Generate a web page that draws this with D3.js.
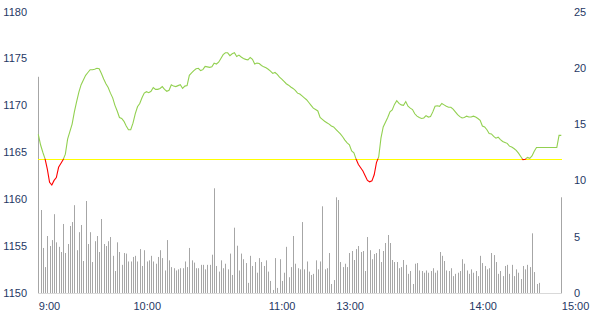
<!DOCTYPE html>
<html><head><meta charset="utf-8">
<script src="https://cdn.jsdelivr.net/npm/d3@7/dist/d3.min.js"></script>
<style>
html,body{margin:0;padding:0;background:#fff;}
svg{display:block;}
text{font-family:"Liberation Sans",Arial,sans-serif;font-size:11px;fill:#1f3864;}
</style></head>
<body>
<svg id="chart" width="597" height="330"></svg>
<script>
// ---- data ----
const prevClose = 1164.3;
const priceTicks = [1150,1155,1160,1165,1170,1175,1180];
const volumeTicks = [0,5,10,15,20,25];
const timeLabels = ["9:00","10:00","11:00","13:00","14:00","15:00"];
const timeIndex = [0,42,102,132,191,232];

const prices = [
1166.9,1165.8,1165.0,1164.3,1163.2,1161.8,1161.5,1162.0,1162.3,1163.4,
1163.8,1164.2,1164.8,1166.4,1167.2,1168.0,1169.3,1170.4,1171.4,1172.2,
1172.7,1173.2,1173.5,1173.8,1173.8,1173.85,1173.95,1173.9,1173.4,1172.8,
1172.3,1171.9,1171.3,1170.8,1170.0,1169.4,1168.7,1168.6,1168.3,1167.8,
1167.4,1167.4,1168.1,1169.1,1169.85,1170.2,1170.8,1171.3,1171.45,1171.35,
1171.5,1171.9,1171.7,1171.7,1171.8,1172.0,1171.7,1171.5,1171.6,1172.2,
1172.05,1172.0,1172.1,1172.2,1171.8,1172.05,1172.1,1173.2,1173.45,1173.7,
1173.9,1173.95,1173.7,1173.8,1174.15,1174.1,1174.05,1174.1,1174.5,1174.4,
1174.6,1175.0,1175.4,1175.6,1175.6,1175.3,1175.5,1175.6,1175.2,1175.35,
1175.15,1175.0,1174.9,1174.85,1175.1,1174.9,1174.4,1174.5,1174.45,1174.25,
1174.1,1174.0,1173.85,1173.65,1173.4,1173.5,1173.3,1173.0,1172.8,1172.55,
1172.3,1172.15,1171.95,1171.8,1171.6,1171.3,1171.2,1171.0,1170.8,1170.6,
1170.3,1170.0,1169.7,1169.55,1169.4,1168.7,1168.5,1168.3,1168.15,1168.0,
1167.8,1167.7,1167.45,1167.2,1166.95,1166.65,1166.3,1166.0,1165.8,1165.15,
1164.95,1164.25,1163.7,1163.35,1163.0,1162.5,1162.0,1161.85,1161.95,1162.6,
1163.9,1164.5,1166.5,1167.7,1168.2,1168.7,1169.3,1169.5,1170.1,1170.5,
1170.2,1170.05,1170.0,1170.4,1169.9,1169.7,1169.55,1169.1,1168.85,1168.7,
1168.6,1168.65,1168.9,1168.75,1168.8,1169.3,1169.9,1169.95,1169.9,1170.2,
1170.05,1169.9,1169.8,1169.8,1169.6,1169.3,1169.0,1168.8,1168.65,1168.7,
1168.85,1168.75,1168.75,1168.85,1168.75,1168.6,1168.4,1167.8,1167.7,1167.4,
1167.0,1166.95,1166.7,1166.5,1166.6,1166.35,1166.15,1166.05,1165.95,1165.65,
1165.55,1165.4,1165.2,1164.9,1164.55,1164.2,1164.25,1164.45,1164.35,1164.6,
1165.1,1165.5,1165.5,1165.5,1165.5,1165.5,1165.5,1165.5,1165.5,1165.5,
1165.5,1166.8,1166.8
];

const volumes = [
19.2,7.37,4.0,2.3,5.06,4.17,4.7,7.0,4.5,4.1,
3.64,6.13,3.55,4.35,5.95,6.3,7.8,3.8,5.4,6.04,
2.84,8.17,4.35,5.4,2.75,4.6,5.06,3.64,6.57,4.35,
4.17,4.6,4.97,3.3,1.95,4.5,3.64,2.5,3.55,
3.5,2.8,2.8,3.2,3.3,2.8,
3.9,2.4,3.8,2.8,2.9,3.3,2.8,2.6,3.2,3.8,
3.1,2.0,4.7,2.9,2.3,2.2,2.0,2.1,2.2,2.2,
2.8,2.3,4.0,2.9,2.7,2.2,2.2,2.5,2.5,2.1,
2.5,2.5,3.4,9.3,2.4,1.9,2.9,2.2,2.6,2.1,
3.5,1.6,5.8,4.2,2.0,3.5,3.0,
2.66,0.9,3.3,2.4,2.75,1.8,3.1,2.75,2.4,2.9,
1.9,1.07,0.27,3.1,0.45,3.0,1.07,1.8,4.1,1.4,
2.3,5.06,2.6,2.2,2.1,6.3,2.1,2.8,1.9,1.6,
1.7,2.9,2.1,2.8,7.7,2.1,2.2,3.55,0.8,1.15,
8.5,8.26,2.75,2.3,2.6,2.3,
3.55,3.73,2.93,3.9,4.17,3.64,3.73,1.95,4.97,3.8,
3.0,3.46,3.55,3.9,2.75,3.73,4.44,5.15,4.44,2.93,
2.75,2.75,2.2,2.3,2.93,2.5,1.7,1.95,0.8,2.6,
2.66,2.0,1.95,1.8,2.0,1.8,1.95,2.2,1.8,2.0,
3.64,3.3,2.84,2.0,1.95,2.2,
1.5,1.7,1.8,1.95,3.0,2.6,2.0,1.7,2.1,1.8,
1.95,1.5,3.3,2.66,2.4,2.1,2.2,3.55,3.37,2.75,
1.7,1.95,1.5,2.4,2.5,1.7,2.5,1.5,2.1,1.8,
1.24,2.4,2.1,2.5,2.3,5.3,1.86,0.8,0.9,
0,0,0,0,0,0,0,0,0,
8.5
];

// ---- layout ----
const svg = d3.select("#chart");
const plotLeft = 38.3, plotRight = 561.3, plotTop = 11.5, plotBottom = 293;
const N = prices.length;

const x = d3.scaleLinear().domain([0, N - 1]).range([plotLeft, plotRight]);
const yP = d3.scaleLinear().domain([1150, 1180]).range([plotBottom, plotTop]);
const yV = d3.scaleLinear().domain([0, 25]).range([plotBottom, plotTop]);

// bottom axis line
svg.append("line")
  .attr("x1", 38).attr("x2", 562)
  .attr("y1", 293.5).attr("y2", 293.5)
  .attr("stroke", "#d9d9d9").attr("stroke-width", 1);

// volume bars
const volData = volumes.map((v, i) => ({i: i, v: v})).filter(d => d.v > 0);
svg.append("g").selectAll("line").data(volData).join("line")
  .attr("x1", d => Math.round(x(d.i)) + 0.5)
  .attr("x2", d => Math.round(x(d.i)) + 0.5)
  .attr("y1", d => yV(d.v))
  .attr("y2", yV(0))
  .attr("stroke", "#a6a6a6").attr("stroke-width", 1);

// baseline (previous close)
const yb = Math.round(yP(prevClose)) + 0.5;
svg.append("line")
  .attr("x1", 38).attr("x2", 562)
  .attr("y1", yb).attr("y2", yb)
  .attr("stroke", "#ffff00").attr("stroke-width", 1);

// clip paths for above / below
const defs = svg.append("defs");
defs.append("clipPath").attr("id", "above").append("rect")
  .attr("x", 0).attr("y", 0).attr("width", 597).attr("height", yP(prevClose));
defs.append("clipPath").attr("id", "below").append("rect")
  .attr("x", 0).attr("y", yP(prevClose)).attr("width", 597).attr("height", 330);

const line = d3.line().x((d, i) => x(i)).y(d => yP(d));
svg.append("path").datum(prices)
  .attr("d", line).attr("fill", "none")
  .attr("stroke", "#92d050").attr("stroke-width", 1.1)
  .attr("clip-path", "url(#above)");
svg.append("path").datum(prices)
  .attr("d", line).attr("fill", "none")
  .attr("stroke", "#ff0000").attr("stroke-width", 1.1)
  .attr("clip-path", "url(#below)");

// left axis
const gl = svg.append("g").attr("transform", "translate(27,0)")
  .call(d3.axisLeft(yP).tickValues(priceTicks).tickSize(0).tickPadding(0).tickFormat(d3.format("d")));
gl.select(".domain").remove();

// right axis
const gr = svg.append("g").attr("transform", "translate(574,0)")
  .call(d3.axisRight(yV).tickValues(volumeTicks).tickSize(0).tickPadding(0).tickFormat(d3.format("d")));
gr.select(".domain").remove();

// bottom axis
const gb = svg.append("g").attr("transform", "translate(0,302)")
  .call(d3.axisBottom(x).tickValues(timeIndex).tickSize(0).tickPadding(0)
    .tickFormat((d, i) => timeLabels[i]));
gb.select(".domain").remove();
gb.selectAll("text").attr("text-anchor", "start").attr("dy", "0.71em");

svg.selectAll(".tick text")
  .attr("fill", "#1f3864")
  .style("font-family", "'Liberation Sans', Arial, sans-serif")
  .style("font-size", "11px");
</script>
</body></html>
